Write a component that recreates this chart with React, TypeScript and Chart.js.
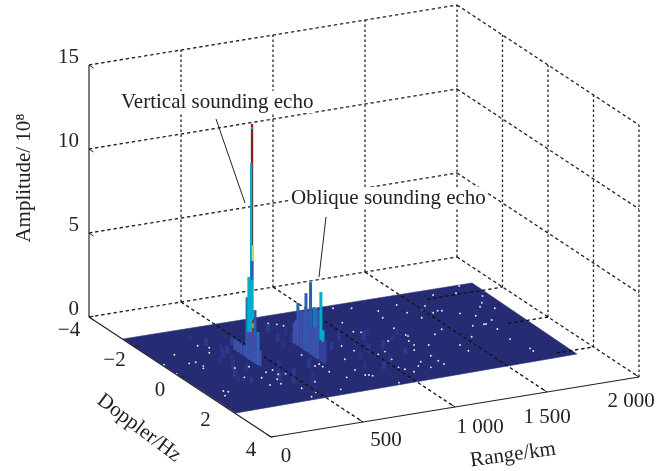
import React, { useEffect, useRef } from "react";
import { Chart, registerables } from "chart.js";

Chart.register(...registerables);

// ---- axes
const rangeTicks = [0, 500, 1000, 1500, 2000];
const rangeTickLabels = ["0", "500", "1 000", "1 500", "2 000"];
const dopplerTicks = [-4, -2, 0, 2, 4];
const dopplerTickLabels = ["\u22124", "\u22122", "0", "2", "4"];
const amplitudeTicks = [0, 5, 10, 15];
const amplitudeTickLabels = ["0", "5", "10", "15"];

// ---- flat part of the surface (corners)
const planeRange = [3, 6, 1881, 1894];
const planeDoppler = [-2.53, 2.41, 2.23, -2.48];

// ---- echo facets: position, lower and upper amplitude, colour value
const stripRange = [438, 418, 418, 417, 417, 420, 420, 420, 420, 420, 420, 420, 420, 420, 420, 420, 420, 420, 420, 420, 420, 420, 720, 720, 720, 720, 720, 720, 720, 720, 720, 720, 720, 720, 720, 720, 720, 720, 720, 720, 720, 720, 720, 720];
const stripDoppler = [-1.26, -0.96, -0.83, -0.7, -0.56, -0.45, -0.37, -0.23, -0.27, -0.23, -0.19, -0.23, -0.23, -0.146, -0.1, 0.033, 0.12, -0.41, -0.32, -0.24, -0.146, -0.06, -0.81, -0.726, -0.64, -0.64, -0.5, -0.37, -0.286, -0.2, -0.085, -0.085, -0.03, 0.067, 0.067, 0.153, 0.153, 0.24, 0.24, 0.37, 0.37, 0.46, 0.46, 0.55];
const stripLow = [0, 0, 0, 0, 0, 0, 0, 0, 0, 13.8, 5.92, 4.82, 2.44, 2.02, 0, 0, 0, 0, 0, 0, 0, 0, 0, 0, 0, 1.65, 0, 0, 0, 0, 0, 1.6, 0, 0, 1.75, 0, 1.8, 0, 0.95, 0, 1.25, 0, 1.2, 0];
const stripHigh = [0.48, 0.65, 0.65, 0.65, 0.65, 3.6, 4.88, 14.1, 11.74, 13.92, 6.93, 5.95, 4.82, 2.32, 3.14, 1.96, 0.95, 1.56, 1.65, 1.71, 1.78, 1.7, 1.19, 1.46, 1.65, 2.55, 2.24, 2.3, 3.45, 2.46, 1.6, 4.28, 1.67, 1.75, 2.94, 1.8, 2.96, 0.95, 2.9, 1.25, 4.1, 1.2, 1.9, 1.43];
const stripShade = [0.8, 1, 1, 1, 1, 3, 4, 14, 5, 5, 7, 2, 4, 7, 2, 3, 1, 1.2, 1.2, 1.2, 1.2, 1.2, 1, 1, 1, 2, 1.2, 1.2, 1.6, 1.2, 1.2, 2, 1.2, 1, 3, 1, 3, 1, 2, 0.8, 4, 0.8, 4, 0.8];

// ---- low ripples around the echoes
const rippleRange = [300, 340, 370, 330, 280, 300, 350, 260, 240, 290, 330, 380, 640, 700, 760, 680, 730, 800, 660, 740, 460, 520, 600, 470, 560, 640, 500, 430, 900, 950, 1000, 1060, 1120, 1000, 920, 1090, 1180, 860, 1240, 1150, 880, 960, 1030];
const rippleDoppler = [-2.0, -1.6, -1.2, -0.8, -0.5, -0.1, 0.1, 0.3, 0.6, 0.8, -0.4, -1.0, -2.1, -1.8, -1.5, -1.2, -1.0, -1.3, -0.8, -0.6, 0.6, 0.8, 1.0, 1.2, 1.3, 0.5, 0.3, 0.9, -1.0, -0.7, -1.1, -0.5, -0.8, 0.2, 0.5, 0.1, -0.2, -0.3, -0.5, 0.6, 1.0, 1.2, 0.9];
const rippleHeight = [0.2, 0.3, 0.25, 0.4, 0.3, 0.45, 0.35, 0.3, 0.25, 0.2, 0.35, 0.3, 0.2, 0.3, 0.4, 0.35, 0.5, 0.25, 0.4, 0.45, 0.3, 0.35, 0.25, 0.2, 0.3, 0.45, 0.4, 0.3, 0.3, 0.4, 0.35, 0.45, 0.3, 0.4, 0.3, 0.35, 0.25, 0.3, 0.2, 0.25, 0.25, 0.3, 0.2];

// ---- isolated bright cells of the surface
const speckRange = [284, 321, 288, 123, 12, 5, 130, 166, 174, 159, 298, 278, 369, 351, 406, 450, 446, 482, 408, 340, 396, 96, 113, 73, 456, 491, 443, 790, 770, 739, 676, 692, 661, 557, 685, 690, 1818, 1645, 1756, 1853, 1806, 1772, 1826, 1420, 1300, 1415, 1275, 1500, 1537, 1528, 1561, 1579, 1640, 1694, 1445, 1735, 1673, 1684, 1615, 1254, 1456, 1700, 1393, 1262, 1264, 1537, 1689, 1235, 1145, 1084, 1055, 1066, 1202, 1121, 1295, 1231, 1431, 1714, 1711, 1430, 933, 1013, 1061, 1199, 1233, 1150, 1233, 1236, 1157, 1111, 1031, 1054, 1016, 820, 837, 848, 724, 917, 1039, 809, 835, 619, 909];
const speckDoppler = [-1.52, -1.31, -1.04, -1.24, -0.8, -0.19, -0.65, -0.65, -0.38, -0.26, 0, 0.58, 0.05, 0.75, 0.5, 0.43, 0.71, 0.74, 0.97, 1.21, 1.24, 1.13, 1.21, 1.39, 1.66, 2.0, 2.2, -1.84, -1.97, -2.1, -0.12, 0.52, 0.59, 1.43, 1.02, 0.69, -2.43, -2.18, -2.07, -1.69, -1.34, -1.14, -0.93, -1.96, -1.8, -1.46, -1.4, -1.47, -1.66, -1.23, -1.3, -1.26, -0.96, -0.7, -1.06, -0.33, -0.17, -0.17, -0.19, -0.74, -0.27, 0.2, -0.06, -0.28, -0.2, 0.39, 0.85, 0.07, -0.11, -0.81, -0.91, -1.49, -2.18, -2.34, 0.46, 0.33, 0.73, 1.52, 1.69, 1.11, 0.11, 0.52, 0.43, 0.6, 1.05, 1.28, 1.38, 1.61, 1.67, 1.49, 1.55, 1.76, 1.39, 1.51, 1.54, 1.61, 1.47, 2.21, 0.9, 1.15, 0.49, 2.06, -0.25];

// ---- styles
const INK = "#222222";
const SERIF = "'Liberation Serif', 'Times New Roman', serif";
const FONT_PX = 21;
const shadeStops = [0.5, 1, 1.5, 2.5, 3.5, 6, 10];
const shadeColors = ["#2b3488", "#3440a0", "#3d50aa", "#2a5fb0", "#1a78bc", "#00aec9", "#b7e07a", "#871c1e"];
const rippleColors = ["#2a3282", "#2e388c"];
const PLANE_COLOR = "#262c74";
// where the Doppler grid lines emerge through the surface
const dopplerGridFrom: Record<string, number> = { "-2": 1590, "0": 1783, "2": 1800 };
const rangeLabelOffset = [[15, 19], [23, 18], [25, 20], [0, 25], [-8, 24]];

// oblique projection of the box into the picture
const ORIGIN = { x: 89, y: 317 };
function project(range: number, doppler: number, amplitude: number) {
  const a = (doppler + 4) / 8;
  const b = range / 2000;
  return {
    x: ORIGIN.x + a * 182 + b * 368,
    y: ORIGIN.y + a * 120 - b * 60 - (amplitude / 15) * 252,
  };
}
function shade(v: number) {
  let i = 0;
  while (i < shadeStops.length && v >= shadeStops[i]) i++;
  return shadeColors[i];
}

function buildDatasets() {
  const layers: any[] = [];
  const line = (pts: { x: number; y: number }[], color: string, width: number, dash: number[] = []) =>
    layers.push({
      data: pts, showLine: true, pointRadius: 0, borderColor: color, borderWidth: width,
      borderDash: dash, tension: 0, borderCapStyle: "butt", fill: false,
    });
  const DASH = [3.4, 2.8];
  const VDASH = [2.6, 2.4];
  const GRID = 1.3;
  const [zMin, zMax] = [amplitudeTicks[0], amplitudeTicks[amplitudeTicks.length - 1]];

  // back walls
  amplitudeTicks.slice(1).forEach((z) => {
    line([project(0, -4, z), project(2000, -4, z)], INK, GRID, DASH);
    line([project(2000, -4, z), project(2000, 4, z)], INK, GRID, DASH);
  });
  rangeTicks.slice(1).forEach((r) => line([project(r, -4, zMin), project(r, -4, zMax)], INK, GRID, VDASH));
  dopplerTicks.slice(1).forEach((d) => line([project(2000, d, zMin), project(2000, d, zMax)], INK, GRID, VDASH));
  line([project(0, -4, 0), project(2000, -4, 0)], INK, GRID, DASH);
  line([project(2000, -4, 0), project(2000, 4, 0)], INK, GRID, DASH);

  // flat surface
  const corners = planeRange.map((r, i) => project(r, planeDoppler[i], 0));
  layers.push({
    data: [...corners, corners[0]], showLine: true, pointRadius: 0, borderColor: PLANE_COLOR, borderWidth: 0.6,
    backgroundColor: PLANE_COLOR, fill: "shape", tension: 0,
  });

  // ripples
  rippleRange.forEach((r, i) => {
    const p0 = project(r, rippleDoppler[i], 0);
    const p1 = project(r, rippleDoppler[i], rippleHeight[i]);
    line([{ x: p0.x, y: p0.y + 3 }, p1], rippleColors[i % 2], 4);
  });

  // specks
  layers.push({
    data: speckRange.map((r, i) => project(r, speckDoppler[i], 0)),
    showLine: false, pointRadius: 0.95, pointBackgroundColor: "#e8ebf5", pointBorderWidth: 0,
  });

  // floor grid that shows over the surface
  rangeTicks.slice(1, -1).forEach((r) => line([project(r, -4, 0), project(r, 4, 0)], "#111111", GRID, DASH));
  dopplerTicks.slice(1, -1).forEach((d) => line([project(dopplerGridFrom[String(d)], d, 0), project(2000, d, 0)], "#111111", GRID, DASH));

  // echoes
  stripRange.forEach((r, i) => {
    const d = stripDoppler[i];
    line([project(r, d, stripLow[i]), project(r, d, stripHigh[i])], shade(stripShade[i]), stripHigh[i] > 6 ? 2.3 : 3);
  });

  // solid axes
  line([project(0, -4, zMin), project(0, -4, zMax)], "#444444", 1.4);
  line([project(0, -4, 0), project(0, 4, 0)], INK, 1.2);
  line([project(0, 4, 0), project(2000, 4, 0)], INK, 1.2);
  // ticks
  rangeTicks.forEach((r) => line([project(r, 4, 0), project(r, 3.8, 0)], INK, 1));
  dopplerTicks.forEach((d) => line([project(0, d, 0), project(25, d, 0)], INK, 1));
  amplitudeTicks.forEach((z) => line([project(0, -4, z), project(0, -3.8, z)], INK, 1));

  const n = layers.length;
  layers.forEach((l, i) => (l.order = n - i));
  return layers;
}

const textPlugin = {
  id: "paperText",
  afterDatasetsDraw(chart: any) {
    const c = chart.ctx as CanvasRenderingContext2D;
    c.save();
    c.fillStyle = INK;
    c.strokeStyle = INK;
    c.font = `${FONT_PX}px ${SERIF}`;
    c.textBaseline = "middle";

    c.textAlign = "right";
    amplitudeTicks.forEach((z, i) => {
      const p = project(0, -4, z);
      c.fillText(amplitudeTickLabels[i], p.x - 10, p.y - 8);
    });
    c.textAlign = "center";
    dopplerTicks.forEach((d, i) => {
      const p = project(0, d, 0);
      c.fillText(dopplerTickLabels[i], p.x - 20, p.y + 13);
    });
    rangeTicks.forEach((r, i) => {
      const p = project(r, 4, 0);
      c.fillText(rangeTickLabels[i], p.x + rangeLabelOffset[i][0], p.y + rangeLabelOffset[i][1]);
    });

    const rotated = (t: string, x: number, y: number, deg: number) => {
      c.save();
      c.translate(x, y);
      c.rotate((deg * Math.PI) / 180);
      c.fillText(t, 0, 0);
      c.restore();
    };
    rotated("Range/km", 513, 455, -8);
    rotated("Doppler/Hz", 139, 428, 37);
    rotated("Amplitude/ 10\u2078", 24, 178, -90);

    // annotations with their white backing and leaders
    const note = (t: string, x: number, y: number) => {
      c.textAlign = "left";
      const w = c.measureText(t).width;
      c.fillStyle = "#ffffff";
      c.fillRect(x, y - 11, w, 22);
      c.fillStyle = INK;
      c.fillText(t, x, y);
    };
    note("Vertical sounding echo", 121, 102);
    note("Oblique sounding echo", 291, 198);
    c.lineWidth = 1;
    c.beginPath();
    c.moveTo(216, 119);
    c.lineTo(245, 203);
    c.moveTo(326, 217);
    c.lineTo(319, 277);
    c.stroke();
    c.restore();
  },
};

export default function App() {
  const ref = useRef<HTMLCanvasElement>(null);
  useEffect(() => {
    if (!ref.current) return;
    const chart = new Chart(ref.current, {
      type: "scatter",
      data: { datasets: buildDatasets() },
      options: {
        animation: false,
        responsive: false,
        devicePixelRatio: 1,
        layout: { padding: 0, autoPadding: false },
        plugins: { legend: { display: false }, tooltip: { enabled: false }, title: { display: false } },
        events: [],
        scales: {
          x: { type: "linear", min: 0, max: 667, display: false },
          y: { type: "linear", min: 0, max: 471, reverse: true, display: false },
        },
      },
      plugins: [textPlugin],
    } as any);
    return () => chart.destroy();
  }, []);
  return (
    <div style={{ position: "absolute", left: 0, top: 0, width: 667, height: 471, background: "#ffffff" }}>
      <canvas ref={ref} width={667} height={471} style={{ display: "block" }} />
    </div>
  );
}
